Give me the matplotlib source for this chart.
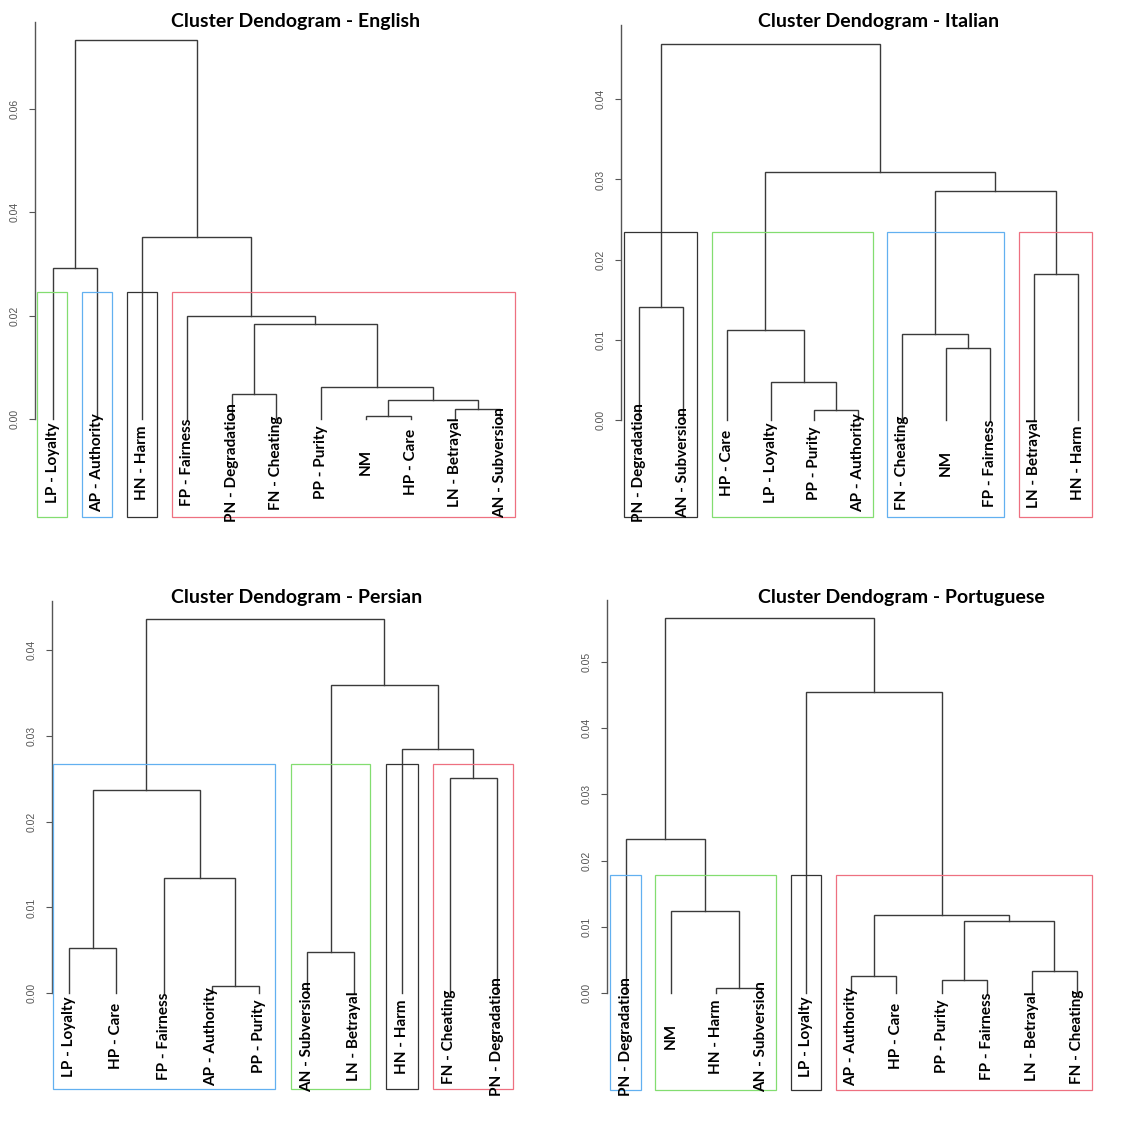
import matplotlib
matplotlib.use("Agg")
import matplotlib.pyplot as plt

# ---- data: leaf order, merges (leaf label or earlier merge index), merge heights ----
english_leaves = ['LP - Loyalty', 'AP - Authority', 'HN - Harm', 'FP - Fairness', 'PN - Degradation',
                  'FN - Cheating', 'PP - Purity', 'NM', 'HP - Care', 'LN - Betrayal', 'AN - Subversion']
english_merges = [('NM', 'HP - Care'), ('LN - Betrayal', 'AN - Subversion'), (0, 1),
                  ('PN - Degradation', 'FN - Cheating'), ('PP - Purity', 2), (3, 4),
                  ('FP - Fairness', 5), ('LP - Loyalty', 'AP - Authority'), ('HN - Harm', 6), (7, 8)]
english_heights = [0.00064, 0.00206, 0.00374, 0.0049, 0.00625, 0.01837, 0.0199, 0.02926, 0.03519, 0.07329]
english_box_colors = ['#83DD70', '#62B0F0', '#333333', '#EE7080']
english_ticks = [0.0, 0.02, 0.04, 0.06]

italian_leaves = ['PN - Degradation', 'AN - Subversion', 'HP - Care', 'LP - Loyalty', 'PP - Purity',
                  'AP - Authority', 'FN - Cheating', 'NM', 'FP - Fairness', 'LN - Betrayal', 'HN - Harm']
italian_merges = [('PP - Purity', 'AP - Authority'), ('LP - Loyalty', 0), ('NM', 'FP - Fairness'),
                  ('FN - Cheating', 2), ('HP - Care', 1), ('PN - Degradation', 'AN - Subversion'),
                  ('LN - Betrayal', 'HN - Harm'), (3, 6), (4, 7), (5, 8)]
italian_heights = [0.00129, 0.00478, 0.00902, 0.01077, 0.01119, 0.01414, 0.01817, 0.02861, 0.03089, 0.04694]
italian_box_colors = ['#333333', '#83DD70', '#62B0F0', '#EE7080']
italian_ticks = [0.0, 0.01, 0.02, 0.03, 0.04]

persian_leaves = ['LP - Loyalty', 'HP - Care', 'FP - Fairness', 'AP - Authority', 'PP - Purity',
                  'AN - Subversion', 'LN - Betrayal', 'HN - Harm', 'FN - Cheating', 'PN - Degradation']
persian_merges = [('AP - Authority', 'PP - Purity'), ('AN - Subversion', 'LN - Betrayal'),
                  ('LP - Loyalty', 'HP - Care'), ('FP - Fairness', 0), (2, 3),
                  ('FN - Cheating', 'PN - Degradation'), ('HN - Harm', 5), (1, 6), (4, 7)]
persian_heights = [0.00082, 0.00478, 0.00524, 0.01348, 0.02369, 0.02509, 0.02843, 0.03592, 0.04361]
persian_box_colors = ['#62B0F0', '#83DD70', '#333333', '#EE7080']
persian_ticks = [0.0, 0.01, 0.02, 0.03, 0.04]

portuguese_leaves = ['PN - Degradation', 'NM', 'HN - Harm', 'AN - Subversion', 'LP - Loyalty',
                     'AP - Authority', 'HP - Care', 'PP - Purity', 'FP - Fairness', 'LN - Betrayal',
                     'FN - Cheating']
portuguese_merges = [('HN - Harm', 'AN - Subversion'), ('PP - Purity', 'FP - Fairness'),
                     ('AP - Authority', 'HP - Care'), ('LN - Betrayal', 'FN - Cheating'), (1, 3),
                     (2, 4), ('NM', 0), ('PN - Degradation', 6), ('LP - Loyalty', 5), (7, 8)]
portuguese_heights = [0.00085, 0.00201, 0.00266, 0.00332, 0.01095, 0.01186, 0.01236, 0.02332,
                      0.04548, 0.05663]
portuguese_box_colors = ['#62B0F0', '#83DD70', '#333333', '#EE7080']
portuguese_ticks = [0.0, 0.01, 0.02, 0.03, 0.04, 0.05]

titles = ['Cluster Dendogram - English', 'Cluster Dendogram - Italian',
          'Cluster Dendogram - Persian', 'Cluster Dendogram - Portuguese']

W, H = 1146, 1132
LINE = '#3a3a3a'
LABEL_FONT = 'Lato'

# layout in pixels: axis line x, first leaf x, leaf step, y of 0, px per 0.01, axis top, box bottom, title x, title y
layouts = [
    dict(ax_x=34.7, leaf1=52.7, step=44.73, y0=419.3, per01=51.72, top=21.7, bottom=517.3, tx=171, ty=21),
    dict(ax_x=621.3, leaf1=639.0, step=43.87, y0=420.0, per01=80.17, top=25.0, bottom=517.3, tx=758, ty=21),
    dict(ax_x=51.7, leaf1=68.7, step=47.6, y0=993.3, per01=85.83, top=600.7, bottom=1089.3, tx=171, ty=597),
    dict(ax_x=607.3, leaf1=625.7, step=45.13, y0=993.3, per01=66.33, top=600.0, bottom=1090.0, tx=758, ty=597),
]


def leaf_span(ref, leaves, merges):
    if isinstance(ref, str):
        i = leaves.index(ref) + 1
        return i, i
    a, b = merges[ref]
    la, ra = leaf_span(a, leaves, merges)
    lb, rb = leaf_span(b, leaves, merges)
    return min(la, lb), max(ra, rb)


def draw_dendrogram(fig, lay, leaves, merges, heights, box_colors, ticks, title, k=4):
    n = len(leaves)
    x_left = 1 + (lay['ax_x'] - lay['leaf1']) / lay['step']
    x_right = n + 0.5
    right_px = lay['leaf1'] + (x_right - 1) * lay['step']
    y_top = (lay['y0'] - lay['top']) / lay['per01'] * 0.01
    y_bot = -(lay['bottom'] - lay['y0']) / lay['per01'] * 0.01

    ax = fig.add_axes([lay['ax_x'] / W, (H - lay['bottom']) / H,
                       (right_px - lay['ax_x']) / W, (lay['bottom'] - lay['top']) / H])
    ax.set_xlim(x_left, x_right)
    ax.set_ylim(y_bot, y_top)

    # node x positions and heights
    pos = {}
    for name in leaves:
        pos[name] = (leaves.index(name) + 1, 0.0)
    for j, (a, b) in enumerate(merges):
        xa, ya = pos[a]
        xb, yb = pos[b]
        h = heights[j]
        ax.plot([xa, xa, xb, xb], [ya, h, h, yb], color=LINE, lw=1.0, solid_joinstyle='miter')
        pos[j] = ((xa + xb) / 2, h)

    # cut into k clusters (split highest merges first)
    groups = [len(merges) - 1]
    while len(groups) < k:
        cand = [g for g in groups if not isinstance(g, str)]
        g = max(cand, key=lambda m: heights[m])
        groups.remove(g)
        groups.extend(merges[g])
    spans = sorted(leaf_span(g, leaves, merges) for g in groups)
    hs = sorted(heights, reverse=True)
    box_top = (hs[k - 2] + hs[k - 1]) / 2
    for (l, r), c in zip(spans, box_colors):
        ax.add_patch(plt.Rectangle((l - 0.34, y_bot), (r + 0.33) - (l - 0.34), box_top - y_bot,
                                   fill=False, edgecolor=c, lw=0.9, clip_on=False, zorder=3))

    for i, name in enumerate(leaves):
        ax.annotate(name, xy=(i + 1, 0), xytext=(0, -31), textcoords='offset points',
                    rotation=90, ha='center', va='center', fontsize=11, fontweight='bold',
                    family=LABEL_FONT, color='black')

    for s in ['top', 'right', 'bottom']:
        ax.spines[s].set_visible(False)
    ax.spines['left'].set_bounds(0, y_top)
    ax.spines['left'].set_color('#555555')
    ax.spines['left'].set_linewidth(1.0)
    ax.set_xticks([])
    ax.set_yticks(ticks)
    ax.set_yticklabels([f'{t:.2f}' for t in ticks])
    ax.tick_params(axis='y', length=4, width=0.8, color='#555555', labelsize=7.5,
                   labelcolor='#555555', pad=7, labelrotation=90)
    for lbl in ax.get_yticklabels():
        lbl.set_verticalalignment('center')
        lbl.set_family('Liberation Sans')

    fig.text(lay['tx'] / W, 1 - lay['ty'] / H, title, ha='left', va='center',
             fontsize=14, fontweight='bold', family=LABEL_FONT)


fig = plt.figure(figsize=(W / 100, H / 100), dpi=100)
fig.patch.set_facecolor('white')

draw_dendrogram(fig, layouts[0], english_leaves, english_merges, english_heights,
                english_box_colors, english_ticks, titles[0])
draw_dendrogram(fig, layouts[1], italian_leaves, italian_merges, italian_heights,
                italian_box_colors, italian_ticks, titles[1])
draw_dendrogram(fig, layouts[2], persian_leaves, persian_merges, persian_heights,
                persian_box_colors, persian_ticks, titles[2])
draw_dendrogram(fig, layouts[3], portuguese_leaves, portuguese_merges, portuguese_heights,
                portuguese_box_colors, portuguese_ticks, titles[3])

fig.savefig('out.png', dpi=100)
